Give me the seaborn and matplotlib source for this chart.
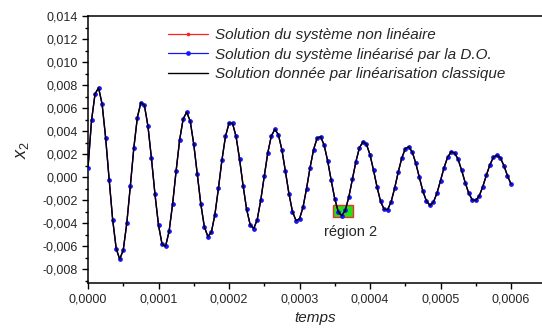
import numpy as np
import pandas as pd
import matplotlib
matplotlib.use("Agg")
import matplotlib.pyplot as plt
import seaborn as sns
from matplotlib.ticker import MultipleLocator, FuncFormatter
from matplotlib.patches import Rectangle

# time samples (s), one every 5e-6
temps = [i * 5e-6 for i in range(121)]

# x2 values, in units of 1e-3
x2_milli = [
    0.80, 4.92, 7.23, 7.76, 6.35, 3.43, -0.21, -3.70, -6.21, -7.14,
    -6.33, -4.02, -0.80, 2.53, 5.18, 6.48, 6.24, 4.45, 1.63, -1.49,
    -4.17, -5.81, -6.01, -4.72, -2.34, 0.55, 3.24, 5.06, 5.65, 4.86,
    2.87, 0.26, -2.33, -4.31, -5.16, -4.78, -3.26, -0.97, 1.49, 3.54,
    4.68, 4.67, 3.53, 1.56, -0.75, -2.79, -4.13, -4.48, -3.70, -2.01,
    0.07, 2.10, 3.57, 4.15, 3.70, 2.38, 0.51, -1.43, -2.99, -3.77,
    -3.63, -2.61, -0.99, 0.83, 2.40, 3.39, 3.51, 2.77, 1.39, -0.29,
    -1.88, -3.01, -3.35, -2.87, -1.72, -0.19, 1.34, 2.55, 3.07, 2.85,
    1.94, 0.60, -0.86, -2.11, -2.79, -2.83, -2.13, -0.95, 0.42, 1.64,
    2.47, 2.64, 2.17, 1.20, -0.02, -1.22, -2.07, -2.45, -2.17, -1.39,
    -0.31, 0.82, 1.71, 2.20, 2.11, 1.54, 0.59, -0.47, -1.39, -1.97,
    -2.03, -1.63, -0.82, 0.15, 1.06, 1.72, 1.90, 1.66, 0.99, 0.12,
    -0.60,
]

# the three solutions practically overlap on this plot
x2_non_lineaire = [v * 1e-3 for v in x2_milli]
x2_lineaire_do = [v * 1e-3 for v in x2_milli]
x2_classique = [v * 1e-3 for v in x2_milli]

labels = [
    "Solution du système non linéaire",
    "Solution du système linéarisé par la D.O.",
    "Solution donnée par linéarisation classique",
]

df = pd.DataFrame({
    "temps": temps,
    "nl": x2_non_lineaire,
    "do": x2_lineaire_do,
    "cl": x2_classique,
})

sns.set_theme(style="ticks")
plt.rcParams["font.family"] = ["Liberation Sans", "DejaVu Sans"]
plt.rcParams["mathtext.fontset"] = "custom"
plt.rcParams["mathtext.it"] = "Liberation Sans:italic"
plt.rcParams["mathtext.rm"] = "Liberation Sans"

fig = plt.figure(figsize=(5.42, 3.31), dpi=100)
ax = fig.add_axes([88 / 542, 1 - 283 / 331, 1 - 88 / 542, (283 - 16) / 331])

# zone "région 2"
ax.add_patch(Rectangle((3.48e-4, -0.00347), 0.275e-4, 0.00107,
                       facecolor="#22e01a", edgecolor="#e8322a", lw=1.0, zorder=1))

sns.lineplot(data=df, x="temps", y="nl", ax=ax, color="#ff2020", lw=0.9,
             marker="o", markersize=2.6, markeredgewidth=0, label=labels[0],
             sort=False, zorder=2)
sns.lineplot(data=df, x="temps", y="do", ax=ax, color="#1515ff", lw=0.9,
             marker="o", markersize=3.4, markeredgewidth=0, label=labels[1],
             sort=False, zorder=3)
sns.lineplot(data=df, x="temps", y="cl", ax=ax, color="black", lw=1.0,
             label=labels[2], sort=False, zorder=4)

ax.text(3.73e-4, -0.0048, "région 2", fontsize=10.5, ha="center", va="center")

ax.set_xlim(0, (542 - 88) / 705000)
ax.set_ylim(-0.0092, 0.014)
ax.xaxis.set_major_locator(MultipleLocator(0.0001))
ax.xaxis.set_minor_locator(MultipleLocator(0.00005))
ax.yaxis.set_major_locator(MultipleLocator(0.002))
ax.yaxis.set_minor_locator(MultipleLocator(0.001))
ax.set_xticks([i * 0.0001 for i in range(7)])
ax.xaxis.set_major_formatter(FuncFormatter(lambda v, p: f"{v:.4f}".replace(".", ",")))
ax.yaxis.set_major_formatter(FuncFormatter(lambda v, p: f"{v:.3f}".replace(".", ",").replace("-0,000", "0,000")))

ax.tick_params(axis="both", which="major", direction="out", length=4.5, width=1.0,
               labelsize=9, pad=3, color="black")
ax.tick_params(axis="both", which="minor", direction="out", length=2.5, width=1.0,
               color="black")
for side in ["left", "bottom", "top"]:
    ax.spines[side].set_linewidth(1.1)
    ax.spines[side].set_color("black")
ax.spines["right"].set_visible(False)

ax.set_xlabel("temps", fontsize=11, style="italic", labelpad=4)
ax.set_ylabel(r"$x_2$", fontsize=13, labelpad=8)

leg = ax.legend(loc="upper left", bbox_to_anchor=(168 / 542, 1 - 28 / 331),
                bbox_transform=fig.transFigure, frameon=False, fontsize=11,
                handlelength=2.6, handletextpad=0.45, labelspacing=0.36,
                borderpad=0, borderaxespad=0)
for t in leg.get_texts():
    t.set_fontstyle("italic")

fig.savefig("out.png", dpi=100)
